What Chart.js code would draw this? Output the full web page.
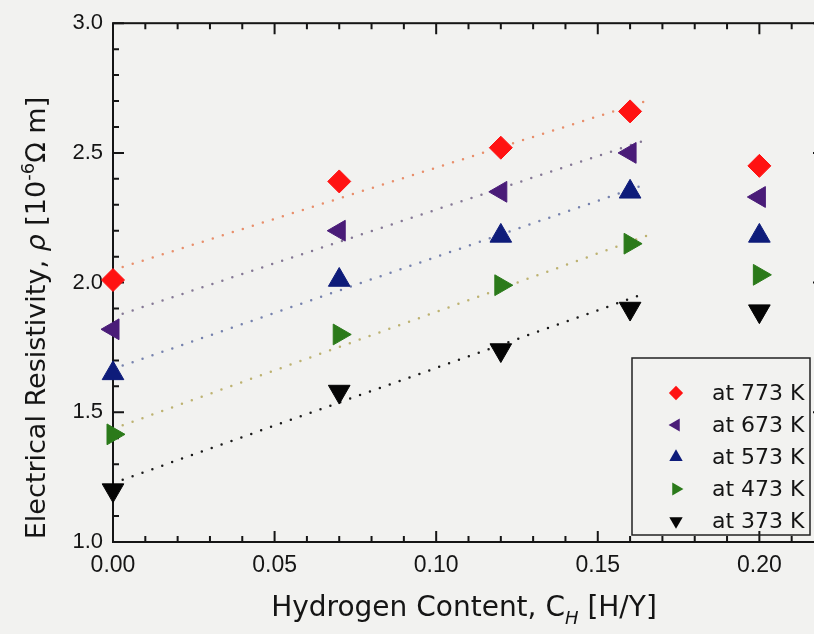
<!DOCTYPE html>
<html>
<head>
<meta charset="utf-8">
<script src="https://cdn.jsdelivr.net/npm/chart.js@4.4.1/dist/chart.umd.min.js"></script>
<style>
  html, body { margin: 0; padding: 0; overflow: hidden; background: #f2f2f0; }
  #wrap { position: absolute; left: 0; top: 0; width: 840px; height: 634px; }
</style>
</head>
<body>
<div id="wrap"><canvas id="chart"></canvas></div>
<script>
// hydrogen content C_H [H/Y]
const hydrogen = [0.00, 0.07, 0.12, 0.16, 0.20];

// resistivity [10^-6 ohm m] at each temperature
const rho773 = [2.01, 2.39, 2.52, 2.66, 2.45];
const rho673 = [1.82, 2.20, 2.35, 2.50, 2.33];
const rho573 = [1.65, 2.01, 2.18, 2.35, 2.18];
const rho473 = [1.415, 1.80, 1.99, 2.15, 2.03];
const rho373 = [1.20, 1.58, 1.74, 1.90, 1.89];

// dotted guide lines (start / end)
const fitRange = [0.003, 0.165];
const fit773 = [2.06, 2.70];
const fit673 = [1.88, 2.55];
const fit573 = [1.68, 2.38];
const fit473 = [1.45, 2.18];
const fit373 = [1.24, 1.96];

const seriesNames = ['at 773 K', 'at 673 K', 'at 573 K', 'at 473 K', 'at 373 K'];

const xTickValues = [0, 0.05, 0.10, 0.15, 0.20];
const xTickLabels = ['0.00', '0.05', '0.10', '0.15', '0.20'];
const yTickValues = [1.0, 1.5, 2.0, 2.5, 3.0];
const yTickLabels = ['1.0', '1.5', '2.0', '2.5', '3.0'];

const styles = [
  { color: '#ff1212', line: '#e88f6c', shape: 'rectRot', rot: 0, r: 11.5 },
  { color: '#4a1c78', line: '#857895', shape: 'triangle', rot: -90, r: 12 },
  { color: '#0e1c7a', line: '#7682ad', shape: 'triangle', rot: 0, r: 12.5 },
  { color: '#2b7a1a', line: '#bdb271', shape: 'triangle', rot: 90, r: 12 },
  { color: '#050505', line: '#1a1a1a', shape: 'triangle', rot: 180, r: 12.5 }
];

const values = [rho773, rho673, rho573, rho473, rho373];
const fits = [fit773, fit673, fit573, fit473, fit373];

const toPoints = (xs, ys) => xs.map((x, i) => ({ x: x, y: ys[i] }));

const markerSets = values.map((ys, i) => ({
  label: seriesNames[i],
  data: toPoints(hydrogen, ys),
  showLine: false,
  pointStyle: styles[i].shape,
  rotation: styles[i].rot,
  pointRadius: styles[i].r,
  pointHoverRadius: styles[i].r,
  backgroundColor: styles[i].color,
  borderColor: styles[i].color,
  pointBorderWidth: 1,
  clip: false,
  order: 0
}));

const lineSets = fits.map((ys, i) => ({
  label: 'fit ' + seriesNames[i],
  data: toPoints(fitRange, ys),
  showLine: true,
  pointRadius: 0,
  borderColor: styles[i].line,
  borderWidth: 2.5,
  borderDash: [0, 10.5],
  borderCapStyle: 'round',
  order: 1
}));

// draw a line of mixed text (italic, sub/superscript) centred on the origin
function drawRich(ctx, parts, size) {
  const fontOf = p => (p.i ? 'italic ' : '') + Math.round(size * (p.s || 1)) + 'px "DejaVu Sans"';
  let total = 0;
  parts.forEach(p => { ctx.font = fontOf(p); total += ctx.measureText(p.t).width; });
  let x = -total / 2;
  parts.forEach(p => {
    ctx.font = fontOf(p);
    ctx.fillText(p.t, x, (p.dy || 0) * size);
    x += ctx.measureText(p.t).width;
  });
}

const frame = {
  id: 'frame',
  beforeDatasetsDraw(chart) {
    const { ctx, chartArea: a, scales: { x, y } } = chart;
    ctx.save();
    ctx.strokeStyle = '#151515';
    ctx.lineWidth = 2;
    ctx.strokeRect(a.left, a.top, a.right - a.left, a.bottom - a.top);
    ctx.beginPath();
    for (let i = 0; i <= 22; i++) {
      const px = x.getPixelForValue(i / 100);
      const len = i % 5 === 0 ? 11 : 6;
      ctx.moveTo(px, a.bottom); ctx.lineTo(px, a.bottom - len);
      ctx.moveTo(px, a.top); ctx.lineTo(px, a.top + len);
    }
    for (let i = 10; i <= 30; i++) {
      const py = y.getPixelForValue(i / 10);
      const len = i % 5 === 0 ? 11 : 6;
      ctx.moveTo(a.left, py); ctx.lineTo(a.left + len, py);
      ctx.moveTo(a.right, py); ctx.lineTo(a.right - len, py);
    }
    ctx.stroke();
    ctx.restore();
  },
  afterDraw(chart) {
    const { ctx } = chart;
    ctx.save();
    ctx.fillStyle = '#151515';
    ctx.textBaseline = 'alphabetic';

    // x axis title
    ctx.save();
    ctx.translate(464, 616);
    drawRich(ctx, [
      { t: 'Hydrogen Content, C' },
      { t: 'H', i: true, s: 0.65, dy: 0.3 },
      { t: ' [H/Y]' }
    ], 28);
    ctx.restore();

    // y axis title
    ctx.save();
    ctx.translate(45, 318);
    ctx.rotate(-Math.PI / 2);
    drawRich(ctx, [
      { t: 'Electrical Resistivity, ' },
      { t: 'ρ', i: true },
      { t: ' [10' },
      { t: '-6', s: 0.65, dy: -0.4 },
      { t: 'Ω m]' }
    ], 27);
    ctx.restore();

    // legend box
    const box = { l: 632, t: 358, r: 810, b: 535 };
    ctx.strokeStyle = '#222';
    ctx.lineWidth = 1.5;
    ctx.strokeRect(box.l, box.t, box.r - box.l, box.b - box.t);
    ctx.font = '22px "DejaVu Sans"';
    ctx.textBaseline = 'middle';
    seriesNames.forEach((name, i) => {
      const cy = 393 + i * 32;
      const st = styles[i];
      ctx.fillStyle = st.color;
      ctx.strokeStyle = st.color;
      Chart.helpers.drawPoint(ctx, {
        pointStyle: st.shape, rotation: st.rot, radius: st.r * 0.62, borderWidth: 0
      }, 676, cy);
      ctx.fillStyle = '#151515';
      ctx.fillText(name, 712, cy + 1);
    });
    ctx.restore();
  }
};

new Chart(document.getElementById('chart'), {
  type: 'scatter',
  data: { datasets: markerSets.concat(lineSets) },
  options: {
    responsive: true,
    maintainAspectRatio: false,
    animation: false,
    devicePixelRatio: 1,
    layout: { padding: { left: 0, top: 22, right: 16, bottom: 0 } },
    plugins: { legend: { display: false }, tooltip: { enabled: false }, title: { display: false } },
    scales: {
      x: {
        type: 'linear',
        min: 0,
        max: 0.22,
        afterFit: s => { s.height = 92; },
        afterBuildTicks: s => { s.ticks = xTickValues.map(v => ({ value: v })); },
        grid: { display: false, drawTicks: false },
        border: { display: false },
        ticks: {
          padding: 10,
          color: '#151515',
          font: { family: 'Liberation Sans', size: 23 },
          maxRotation: 0,
          callback: (v, i) => xTickLabels[i]
        }
      },
      y: {
        type: 'linear',
        min: 1,
        max: 3,
        afterFit: s => { s.width = 113; },
        afterBuildTicks: s => { s.ticks = yTickValues.map(v => ({ value: v })); },
        grid: { display: false, drawTicks: false },
        border: { display: false },
        ticks: {
          padding: 10,
          color: '#151515',
          font: { family: 'Liberation Sans', size: 22 },
          callback: (v, i) => yTickLabels[i]
        }
      }
    }
  },
  plugins: [frame]
});
</script>
</body>
</html>
